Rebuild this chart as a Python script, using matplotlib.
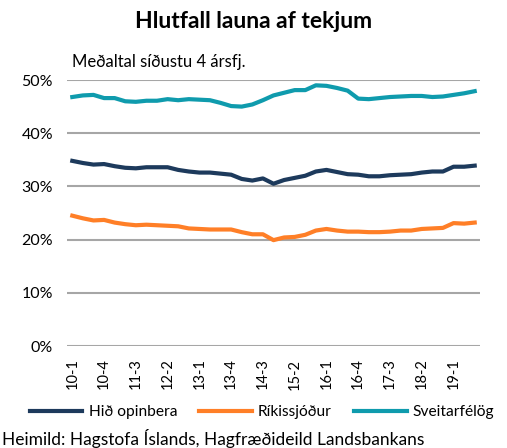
import matplotlib as mpl
mpl.use('Agg')

import matplotlib.pyplot as plt
import numpy as np

plt.rcParams['font.family'] = ['Lato', 'DejaVu Sans']

# Quarters 10-1 .. 19-3
quarters = ['%02d-%d' % (y, q) for y in range(10, 20) for q in range(1, 5)][:39]

hid_opinbera = [34.8, 34.4, 34.1, 34.2, 33.8, 33.5, 33.4, 33.6, 33.6, 33.6,
                33.1, 32.8, 32.6, 32.6, 32.4, 32.2, 31.4, 31.1, 31.5, 30.5,
                31.2, 31.6, 32.0, 32.8, 33.1, 32.7, 32.3, 32.2, 31.9, 31.9,
                32.1, 32.2, 32.3, 32.6, 32.8, 32.8, 33.7, 33.7, 33.9]
rikissjodur = [24.5, 24.0, 23.6, 23.7, 23.2, 22.9, 22.7, 22.8, 22.7, 22.6,
               22.5, 22.1, 22.0, 21.9, 21.9, 21.9, 21.4, 21.0, 21.0, 19.9,
               20.4, 20.5, 20.9, 21.7, 22.0, 21.7, 21.5, 21.5, 21.4, 21.4,
               21.5, 21.7, 21.7, 22.0, 22.1, 22.2, 23.1, 23.0, 23.2]
sveitarfelog = [46.8, 47.1, 47.2, 46.6, 46.6, 46.0, 45.9, 46.1, 46.1, 46.4,
                46.2, 46.4, 46.3, 46.2, 45.7, 45.1, 45.0, 45.4, 46.2, 47.1,
                47.6, 48.1, 48.1, 49.0, 48.9, 48.5, 48.0, 46.5, 46.4, 46.6,
                46.8, 46.9, 47.0, 47.0, 46.8, 46.9, 47.2, 47.5, 47.9]

series_names = ['Hið opinbera', 'Ríkissjóður', 'Sveitarfélög']
colors = ['#1d3a5c', '#ff7f27', '#0f9bad']
grid_color = '#a6a6a6'
text_color = '#000000'

W, H = 507, 448
fig = plt.figure(figsize=(W / 100, H / 100), dpi=100)
ax = fig.add_axes([67 / W, (H - 346) / H, 413 / W, 266 / H])

x = np.arange(len(quarters))
for vals, name, c in zip([hid_opinbera, rikissjodur, sveitarfelog], series_names, colors):
    ax.plot(x, vals, color=c, linewidth=3.0, label=name, solid_joinstyle='round')

ax.set_xlim(-0.5, len(quarters) - 0.5)
ax.set_ylim(0, 50)
ax.set_yticks(np.arange(0, 51, 10))
ax.set_yticklabels(['%d%%' % v for v in range(0, 51, 10)], fontsize=11.5)
ax.yaxis.grid(True, color=grid_color, linewidth=1.5)
ax.set_axisbelow(True)
for s in ax.spines.values():
    s.set_visible(False)
ax.tick_params(axis='y', length=0, pad=10, labelcolor=text_color)

ax.set_xticks(x[::3])
ax.set_xticklabels(quarters[::3], rotation=90, fontsize=10.5)
ax.tick_params(axis='x', length=0, pad=9, labelcolor=text_color)

fig.text(0.5, 1 - 22 / H, 'Hlutfall launa af tekjum', ha='center', va='center',
         fontsize=16.5, fontweight='bold', color=text_color)
fig.text(72 / W, 1 - 62 / H, 'Meðaltal síðustu 4 ársfj.', ha='left', va='center',
         fontsize=12, color=text_color)

leg = fig.legend(loc='center', bbox_to_anchor=(262 / W, 1 - 412 / H), ncol=3,
                 frameon=False, fontsize=11.2, handlelength=3.4, handletextpad=0.4,
                 columnspacing=1.4, borderaxespad=0)

fig.text(2 / W, 1 - 438 / H, 'Heimild: Hagstofa Íslands, Hagfræðideild Landsbankans',
         ha='left', va='center', fontsize=12.5, color=text_color)

fig.savefig('out.png', dpi=100, facecolor='white')
